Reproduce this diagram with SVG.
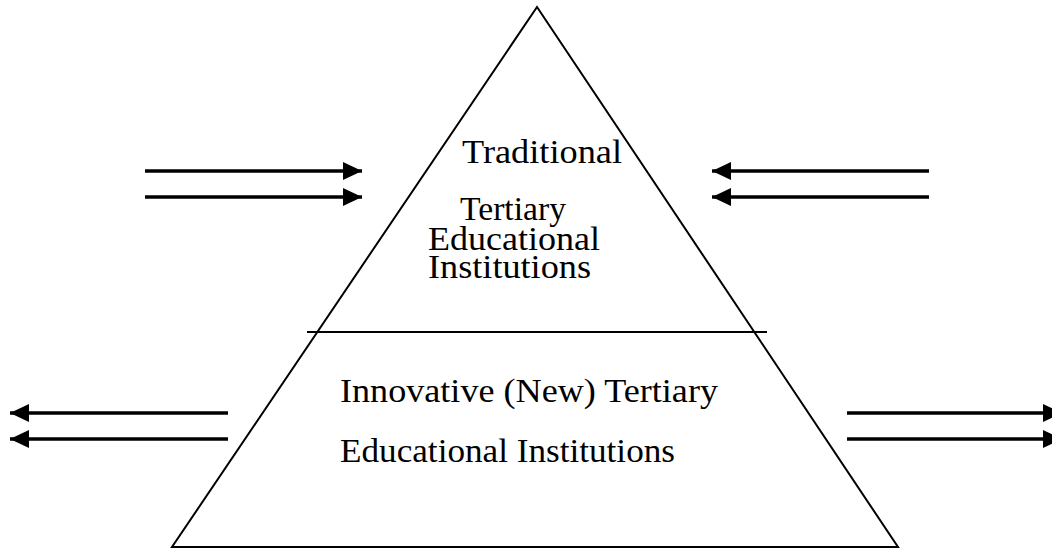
<svg xmlns="http://www.w3.org/2000/svg" width="1052" height="550" viewBox="0 0 1052 550">
<style>
.shape{fill:none;stroke:#000;stroke-width:2}
.arr{stroke:#000;stroke-width:3.5;fill:none;marker-end:url(#ah)}
.t{font-family:"Liberation Serif","Times New Roman",serif;font-size:34px;fill:#000}
</style>
<defs>
<marker id="ah" viewBox="0 0 19 18" markerWidth="19" markerHeight="18" refX="19" refY="9" orient="auto" markerUnits="userSpaceOnUse">
<path d="M0,0 L19,9 L0,18 z" fill="#000"/>
</marker>
</defs>
<rect width="1052" height="550" fill="#fff"/>
<g id="pyramid">
<polygon class="shape" points="537,7 172,547 898,547"/>
<line class="shape" x1="307" y1="332" x2="767" y2="332"/>
</g>
<g id="traditional">
<text class="t" x="462" y="163" textLength="160" lengthAdjust="spacingAndGlyphs">Traditional</text>
<text class="t" x="460" y="220" textLength="106" lengthAdjust="spacingAndGlyphs">Tertiary</text>
<text class="t" x="428" y="250" textLength="172" lengthAdjust="spacingAndGlyphs">Educational</text>
<text class="t" x="428" y="278" textLength="163" lengthAdjust="spacingAndGlyphs">Institutions</text>
</g>
<g id="innovative">
<text class="t" x="340" y="402" textLength="378" lengthAdjust="spacingAndGlyphs">Innovative (New) Tertiary</text>
<text class="t" x="340" y="462" textLength="335" lengthAdjust="spacingAndGlyphs">Educational Institutions</text>
</g>
<g id="connectors">
<line class="arr" x1="145" y1="171" x2="362" y2="171"/>
<line class="arr" x1="145" y1="197" x2="362" y2="197"/>
<line class="arr" x1="929" y1="171" x2="712" y2="171"/>
<line class="arr" x1="929" y1="197" x2="712" y2="197"/>
<line class="arr" x1="228" y1="413" x2="10" y2="413"/>
<line class="arr" x1="228" y1="439" x2="10" y2="439"/>
<line class="arr" x1="847" y1="413" x2="1062" y2="413"/>
<line class="arr" x1="847" y1="439" x2="1062" y2="439"/>
</g>
</svg>
